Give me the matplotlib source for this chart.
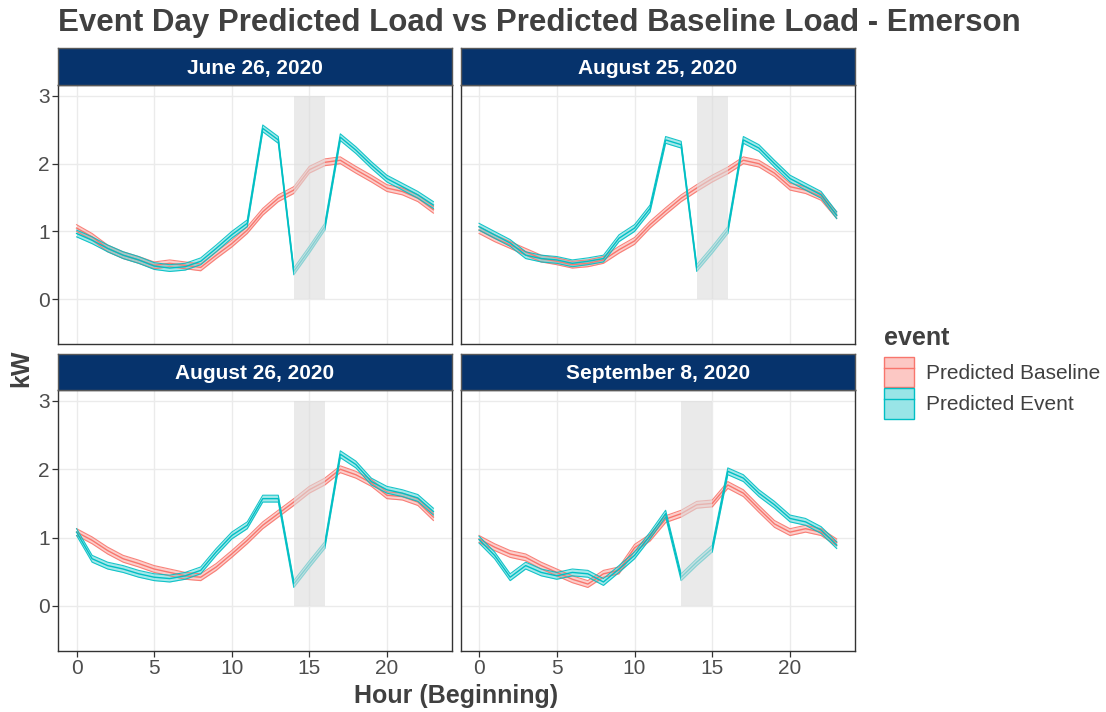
import numpy as np
import matplotlib.pyplot as plt
from matplotlib.patches import Patch, Rectangle
from matplotlib.lines import Line2D

plt.rcParams['font.family'] = ['Liberation Sans', 'DejaVu Sans']

hours = np.arange(24)

dates = ['June 26, 2020', 'August 25, 2020', 'August 26, 2020', 'September 8, 2020']
event_windows = [(14, 16), (14, 16), (14, 16), (13, 15)]

baseline_jun26 = [1.05, 0.92, 0.75, 0.65, 0.58, 0.50, 0.53, 0.50, 0.47, 0.65, 0.82, 1.02,
                  1.29, 1.49, 1.61, 1.91, 2.02, 2.05, 1.91, 1.78, 1.64, 1.59, 1.49, 1.32]
event_jun26 = [0.97, 0.87, 0.75, 0.65, 0.58, 0.49, 0.46, 0.48, 0.56, 0.75, 0.95, 1.12,
               2.52, 2.35, 0.41, 0.73, 1.07, 2.39, 2.20, 1.98, 1.78, 1.66, 1.54, 1.39]

baseline_aug25 = [1.02, 0.90, 0.80, 0.70, 0.60, 0.56, 0.51, 0.53, 0.58, 0.73, 0.86, 1.10,
                  1.30, 1.49, 1.64, 1.78, 1.90, 2.05, 2.00, 1.86, 1.66, 1.61, 1.51, 1.24]
event_aug25 = [1.07, 0.95, 0.83, 0.65, 0.60, 0.58, 0.53, 0.56, 0.60, 0.90, 1.05, 1.34,
               2.35, 2.28, 0.46, 0.73, 1.02, 2.35, 2.23, 2.00, 1.78, 1.66, 1.54, 1.24]

baseline_aug26 = [1.08, 0.96, 0.81, 0.69, 0.62, 0.54, 0.49, 0.44, 0.42, 0.57, 0.76, 0.96,
                  1.18, 1.35, 1.52, 1.70, 1.82, 2.00, 1.92, 1.80, 1.62, 1.60, 1.52, 1.30]
event_aug26 = [1.08, 0.69, 0.59, 0.54, 0.47, 0.42, 0.40, 0.44, 0.52, 0.79, 1.03, 1.18,
               1.57, 1.57, 0.32, 0.61, 0.89, 2.22, 2.07, 1.82, 1.70, 1.65, 1.58, 1.38]

baseline_sep8 = [0.98, 0.86, 0.76, 0.71, 0.59, 0.49, 0.39, 0.32, 0.47, 0.52, 0.85, 1.00,
                 1.27, 1.35, 1.48, 1.50, 1.77, 1.65, 1.42, 1.20, 1.08, 1.13, 1.08, 0.93]
event_sep8 = [0.97, 0.74, 0.42, 0.59, 0.49, 0.44, 0.49, 0.47, 0.35, 0.54, 0.74, 1.03,
              1.35, 0.42, 0.64, 0.84, 1.97, 1.87, 1.65, 1.48, 1.28, 1.23, 1.11, 0.89]

baselines = [baseline_jun26, baseline_aug25, baseline_aug26, baseline_sep8]
events = [event_jun26, event_aug25, event_aug26, event_sep8]

# half width of the prediction ribbons (kW)
band_baseline = 0.05
band_event = 0.05

RED = '#F8766D'
TEAL = '#00BFC4'
NAVY = '#06336C'
W, H = 1106, 712


def fx(px):
    return px / W


def fy(py):
    return 1 - py / H


def draw_series(ax, y, hw, color):
    y = np.array(y)
    ax.fill_between(hours, y - hw, y + hw, color=color, alpha=0.35, lw=0, zorder=2)
    ax.plot(hours, y - hw, color=color, lw=0.8, alpha=0.9, zorder=3)
    ax.plot(hours, y + hw, color=color, lw=0.8, alpha=0.9, zorder=3)
    ax.plot(hours, y, color=color, lw=1.0, zorder=3)


fig = plt.figure(figsize=(W / 100, H / 100), dpi=100)

cols = [(58.3, 451.7), (460.7, 855.0)]
rows = [(47.7, 85.0, 344.0), (354.3, 390.0, 651.0)]

for i in range(4):
    r, c = divmod(i, 2)
    x0, x1 = cols[c]
    s0, p0, p1 = rows[r]
    ax = fig.add_axes([fx(x0), fy(p1), fx(x1 - x0), (p1 - p0) / H])
    draw_series(ax, baselines[i], band_baseline, RED)
    draw_series(ax, events[i], band_event, TEAL)
    e0, e1 = event_windows[i]
    ax.add_patch(Rectangle((e0, 0), e1 - e0, 3, facecolor='#dcdcdc', alpha=0.6,
                           edgecolor='none', zorder=4))
    ax.set_xlim(-1.18, 24.18)
    ax.set_ylim(-0.66, 3.16)
    ax.set_xticks([0, 5, 10, 15, 20])
    ax.set_yticks([0, 1, 2, 3])
    ax.grid(True, color='#EBEBEB', lw=1.0, zorder=0)
    ax.set_axisbelow(True)
    for sp in ax.spines.values():
        sp.set_color('#333333')
        sp.set_linewidth(1.0)
    ax.tick_params(length=4, width=0.9, color='#333333', labelcolor='#4D4D4D',
                   labelsize=15, pad=2)
    if c == 1:
        ax.tick_params(axis='y', left=False, labelleft=False)
    if r == 0:
        ax.tick_params(axis='x', bottom=False, labelbottom=False)

    sax = fig.add_axes([fx(x0), fy(p0), fx(x1 - x0), (p0 - s0) / H])
    sax.set_facecolor(NAVY)
    sax.set_xticks([])
    sax.set_yticks([])
    for sp in sax.spines.values():
        sp.set_color('#595959')
        sp.set_linewidth(1.0)
    sax.text(0.5, 0.45, dates[i], transform=sax.transAxes, ha='center', va='center',
             color='white', fontsize=15, fontweight='bold')

fig.text(fx(58), fy(23), 'Event Day Predicted Load vs Predicted Baseline Load - Emerson',
         ha='left', va='center', fontsize=22.5, fontweight='bold', color='#404040')
fig.text(fx(456), fy(696), 'Hour (Beginning)', ha='center', va='center',
         fontsize=18, fontweight='bold', color='#404040')
fig.text(fx(21), fy(368), 'kW', ha='center', va='center', rotation=90,
         fontsize=18, fontweight='bold', color='#404040')

handles = [
    (Patch(facecolor=RED, alpha=0.4, edgecolor='none'), Patch(facecolor='none', edgecolor=RED, lw=1.0),
     Line2D([], [], color=RED, lw=1.0)),
    (Patch(facecolor=TEAL, alpha=0.4, edgecolor='none'), Patch(facecolor='none', edgecolor=TEAL, lw=1.0),
     Line2D([], [], color=TEAL, lw=1.0)),
]
leg = fig.legend(handles, ['Predicted Baseline', 'Predicted Event'],
                 loc='upper left', bbox_to_anchor=(fx(876), fy(318)),
                 title='event', frameon=False, fontsize=15,
                 title_fontproperties={'size': 18, 'weight': 'bold'},
                 handlelength=1.4, handleheight=1.85, labelspacing=0.05,
                 handletextpad=0.6, borderaxespad=0)
leg._legend_box.align = 'left'
leg._legend_box.sep = 5
leg.get_title().set_color('#404040')
for t in leg.get_texts():
    t.set_color('#404040')

fig.savefig('out.png', dpi=100)
